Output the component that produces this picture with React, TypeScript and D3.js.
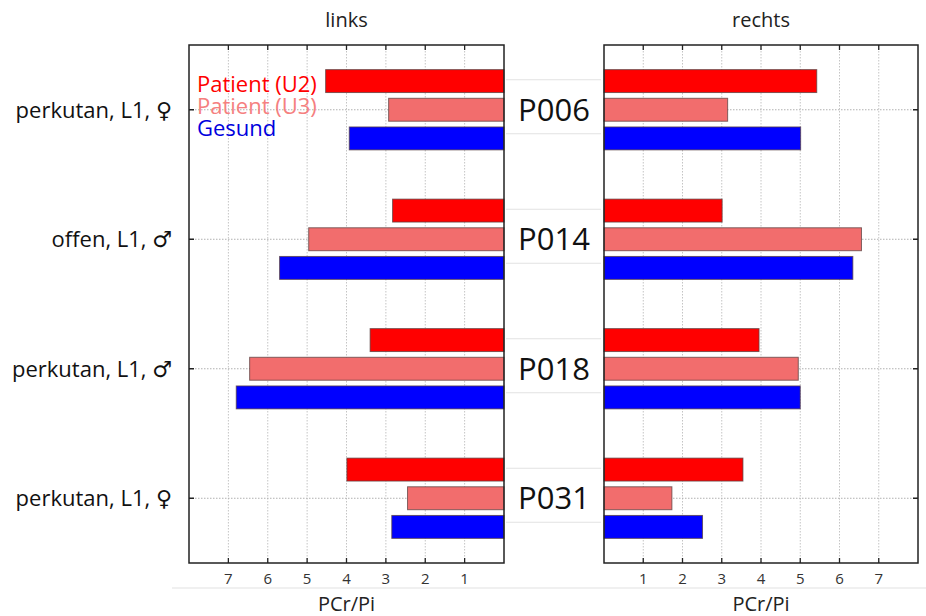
import React from "react";
import * as d3 from "d3";

const patients = ["P006", "P014", "P018", "P031"];
const groupLabels = ["perkutan, L1, ♀", "offen, L1, ♂", "perkutan, L1, ♂", "perkutan, L1, ♀"];
const seriesNames = ["Patient (U2)", "Patient (U3)", "Gesund"];
const seriesColors = ["#ff0000", "#f26d6d", "#0000ff"];
const legendColors = ["#ff0000", "#f58080", "#0000dd"];
const leftU2 = [4.53, 2.83, 3.4, 3.99];
const leftU3 = [2.93, 4.96, 6.46, 2.45];
const leftGesund = [3.93, 5.7, 6.8, 2.85];
const rightU2 = [5.42, 3.01, 3.95, 3.54];
const rightU3 = [3.15, 6.56, 4.95, 1.73];
const rightGesund = [5.01, 6.34, 5.0, 2.51];
const tickValues = [1, 2, 3, 4, 5, 6, 7];

const FONT = "'Open Sans', 'DejaVu Sans', sans-serif";

export default function App() {
  const W = 926, H = 616;
  const top = 45, bottom = 563;
  const xL = d3.scaleLinear().domain([0, 8]).range([504, 189]);
  const xR = d3.scaleLinear().domain([0, 8]).range([604, 918]);
  const y = d3.scaleBand<string>().domain(patients).range([top, bottom]);
  const inner = d3.scaleBand<string>().domain(seriesNames).range([-43, 43]).paddingInner(0.2).paddingOuter(0.1);
  const leftData = [leftU2, leftU3, leftGesund];
  const rightData = [rightU2, rightU3, rightGesund];
  const cy = (p: string) => (y(p) as number) + y.bandwidth() / 2;

  const panel = (x: d3.ScaleLinear<number, number>, data: number[][], side: "L" | "R", title: string) => {
    const [r0, r1] = x.range();
    const x0 = Math.min(r0, r1), x1 = Math.max(r0, r1);
    const zero = x(0);
    return (
      <g>
        {tickValues.map((t) => (
          <line key={"g" + t} x1={x(t)} x2={x(t)} y1={top} y2={bottom} stroke="#c4c4c4" strokeWidth={1} strokeDasharray="1.5,1.5" />
        ))}
        {patients.map((p) => (
          <line key={"h" + p} x1={x0} x2={x1} y1={cy(p)} y2={cy(p)} stroke="#b0b0b0" strokeWidth={1} strokeDasharray="1.5,1.5" />
        ))}
        {patients.map((p, i) =>
          seriesNames.map((s, j) => {
            const v = data[j][i];
            const xa = Math.min(zero, x(v));
            const w = Math.abs(x(v) - zero);
            return (
              <rect key={p + s} x={xa} y={cy(p) + (inner(s) as number)} width={w} height={inner.bandwidth()}
                fill={seriesColors[j]} stroke="#5a4040" strokeOpacity={0.75} strokeWidth={1} />
            );
          })
        )}
        <rect x={x0} y={top} width={x1 - x0} height={bottom - top} fill="none" stroke="#222" strokeWidth={1.5} />
        {tickValues.map((t) => (
          <g key={"t" + t}>
            <line x1={x(t)} x2={x(t)} y1={top} y2={top + 5} stroke="#222" strokeWidth={1.3} />
            <line x1={x(t)} x2={x(t)} y1={bottom} y2={bottom - 5} stroke="#222" strokeWidth={1.3} />
            <text x={x(t)} y={584} textAnchor="middle" fontSize={15} fill="#333" fontFamily={FONT}>{t}</text>
          </g>
        ))}
        {patients.map((p) => (
          side === "L" ? (
            <line key={"yt" + p} x1={x0} x2={x0 + 5} y1={cy(p)} y2={cy(p)} stroke="#222" strokeWidth={1.5} />
          ) : (
            <line key={"yt" + p} x1={x1} x2={x1 - 5} y1={cy(p)} y2={cy(p)} stroke="#222" strokeWidth={1.5} />
          )
        ))}
        <text x={(x0 + x1) / 2} y={27} textAnchor="middle" fontSize={20} fill="#222" fontFamily={FONT}>{title}</text>
        <text x={(x0 + x1) / 2} y={611} textAnchor="middle" fontSize={20} fill="#222" fontFamily={FONT}>PCr/Pi</text>
      </g>
    );
  };

  return (
    <svg width={W} height={H} style={{ position: "absolute", left: 0, top: 0, background: "#fff" }}>
      <rect x={0} y={0} width={W} height={H} fill="#fff" />
      <line x1={172} x2={926} y1={588} y2={588} stroke="#e2e2e2" strokeWidth={1.2} />
      {patients.map((p) => (
        <g key={"sep" + p}>
          <line x1={506} x2={601} y1={cy(p) - 30} y2={cy(p) - 30} stroke="#e2e2e2" strokeWidth={1.2} />
          <line x1={506} x2={601} y1={cy(p) + 24} y2={cy(p) + 24} stroke="#e2e2e2" strokeWidth={1.2} />
        </g>
      ))}
      {panel(xL, leftData, "L", "links")}
      {panel(xR, rightData, "R", "rechts")}
      {patients.map((p, i) => (
        <g key={"lab" + p}>
          <text x={554} y={cy(p)} dy="0.36em" textAnchor="middle" fontSize={31} fill="#111" fontFamily={FONT}>{p}</text>
          <text x={172} y={cy(p)} dy="0.36em" textAnchor="end" fontSize={22} fill="#111" fontFamily={FONT}>{groupLabels[i]}</text>
        </g>
      ))}
      {seriesNames.map((s, j) => (
        <text key={"leg" + s} x={197} y={92 + j * 22} fontSize={22} fill={legendColors[j]} fontFamily={FONT}>{s}</text>
      ))}
    </svg>
  );
}
